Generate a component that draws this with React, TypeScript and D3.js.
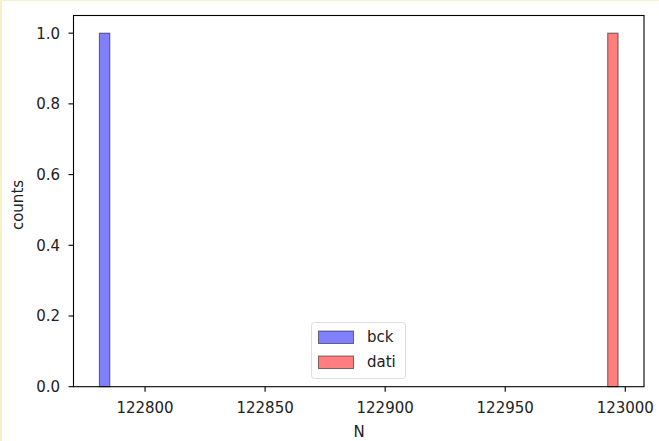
import React from "react";
import * as d3 from "d3";

const bckValues = [122781];
const datiValues = [122997];
const binCount = 50;
const yTicks = [0, 0.2, 0.4, 0.6, 0.8, 1.0];
const xTicks = [122800, 122850, 122900, 122950, 123000];
const seriesNames = ["bck", "dati"];
const seriesColors = ["#0000ff", "#ff0000"];

const W = 659, H = 441;
const M = { left: 73.5, right: 644, top: 15.5, bottom: 386.7 };

export default function App() {
  const all = [...bckValues, ...datiValues];
  const lo = d3.min(all)!, hi = d3.max(all)!;
  const pad = (hi - lo) * 0.05;
  const x = d3.scaleLinear().domain([lo - pad, hi + pad]).range([M.left, M.right]);
  const y = d3.scaleLinear().domain([0, 1.05]).range([M.bottom, M.top]);
  const thresholds = d3.range(binCount + 1).map((i) => lo + ((hi - lo) * i) / binCount);
  const makeBins = (vals: number[]) =>
    thresholds.slice(0, -1).map((t0, i) => {
      const t1 = thresholds[i + 1];
      const c = vals.filter((v) => v >= t0 && (i === binCount - 1 ? v <= t1 : v < t1)).length;
      return { x0: t0, x1: t1, c };
    });
  const series = [bckValues, datiValues].map(makeBins);
  const font = "DejaVu Sans, sans-serif";
  const fs = 15;

  return (
    <svg width={W} height={H} style={{ position: "absolute", left: 0, top: 0 }} fontFamily={font}>
      <rect x={0} y={0} width={W} height={H} fill="#fff" />
      <line x1={0} y1={0.5} x2={W} y2={0.5} stroke="#f8f0c8" />
      <line x1={1} y1={0} x2={1} y2={H} stroke="#f8f0c8" strokeWidth={2} />
      {series.map((bins, si) =>
        bins
          .filter((b) => b.c > 0)
          .map((b, i) => (
            <rect
              key={`${si}-${i}`}
              x={x(b.x0)}
              y={y(b.c)}
              width={x(b.x1) - x(b.x0)}
              height={y(0) - y(b.c)}
              fill={seriesColors[si]}
              fillOpacity={0.5}
              stroke="#000"
              strokeOpacity={0.5}
              strokeWidth={1.1}
            />
          ))
      )}
      <rect x={M.left} y={M.top} width={M.right - M.left} height={M.bottom - M.top} fill="none" stroke="#000" strokeWidth={1.1} />
      {yTicks.map((t) => (
        <g key={t}>
          <line x1={M.left - 5} x2={M.left} y1={y(t)} y2={y(t)} stroke="#000" strokeWidth={1.1} />
          <text x={60} y={y(t)} dy="0.36em" textAnchor="end" fontSize={fs} fill="#222">
            {t.toFixed(1)}
          </text>
        </g>
      ))}
      {xTicks.map((t) => (
        <g key={t}>
          <line x1={x(t)} x2={x(t)} y1={M.bottom} y2={M.bottom + 5} stroke="#000" strokeWidth={1.1} />
          <text x={x(t)} y={413} textAnchor="middle" fontSize={fs} fill="#222">
            {t}
          </text>
        </g>
      ))}
      <text x={359} y={436.5} textAnchor="middle" fontSize={fs} fill="#222">N</text>
      <text transform={`translate(23,205) rotate(-90)`} textAnchor="middle" fontSize={fs} fill="#222">counts</text>
      <g>
        <rect x={311.5} y={322.5} width={94} height={56} rx={3} fill="#fff" fillOpacity={0.8} stroke="#ddd" />
        {seriesNames.map((n, i) => (
          <g key={n}>
            <rect x={318.5} y={331 + i * 25} width={35} height={12.5} fill={seriesColors[i]} fillOpacity={0.5} stroke="#000" strokeOpacity={0.5} />
            <text x={367} y={337 + i * 25} dy="0.36em" fontSize={fs} fill="#222">{n}</text>
          </g>
        ))}
      </g>
    </svg>
  );
}
